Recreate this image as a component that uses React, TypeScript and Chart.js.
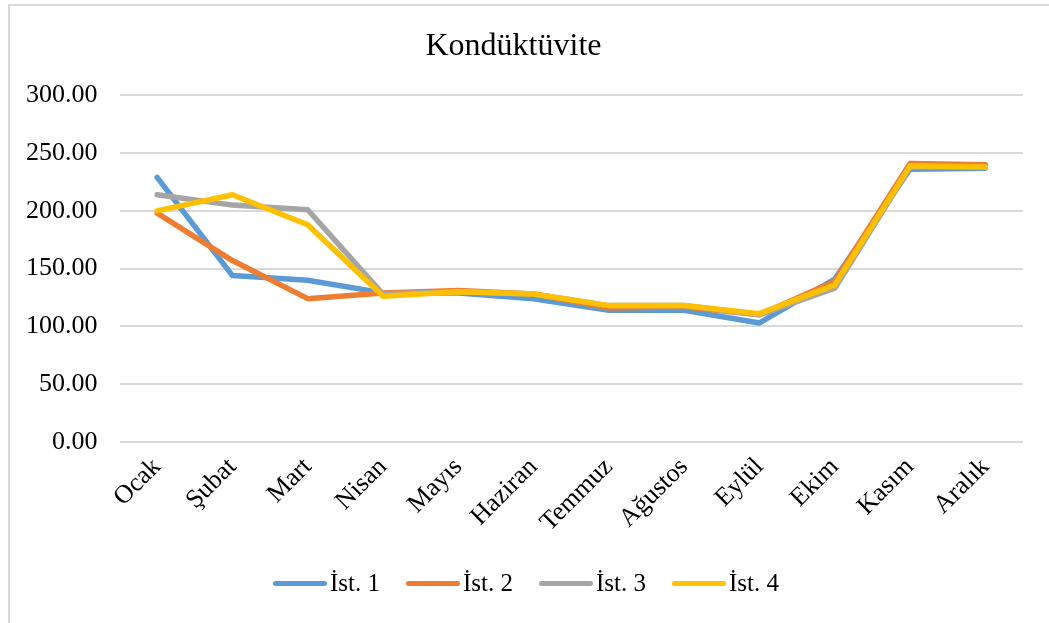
import React, { useEffect, useRef } from "react";
import { Chart, registerables } from "chart.js";

Chart.register(...registerables);

const months = ["Ocak", "Şubat", "Mart", "Nisan", "Mayıs", "Haziran", "Temmuz", "Ağustos", "Eylül", "Ekim", "Kasım", "Aralık"];
const ist1 = [229, 144, 140, 129, 129, 124, 114, 114, 103, 141, 236, 237];
const ist2 = [198, 157, 124, 129, 131, 128, 116, 117, 110, 139, 241, 240];
const ist3 = [214, 205, 201, 128, 130, 128, 118, 118, 110, 133, 238, 238];
const ist4 = [200, 214, 188, 126, 130, 128, 118, 118, 111, 136, 239, 238];
const seriesNames = ["İst. 1", "İst. 2", "İst. 3", "İst. 4"];
const seriesColors = ["#5B9BD5", "#ED7D31", "#A5A5A5", "#FFC000"];
const titleText = "Kondüktüvite";

const FONT = "'Liberation Serif', 'Times New Roman', serif";

export default function App() {
  const ref = useRef<HTMLCanvasElement | null>(null);
  useEffect(() => {
    if (!ref.current) return;
    const all = [ist1, ist2, ist3, ist4];
    const chart = new Chart(ref.current, {
      type: "line",
      data: {
        labels: months,
        datasets: all.map((d, i) => ({
          label: seriesNames[i],
          data: d,
          borderColor: seriesColors[i],
          backgroundColor: seriesColors[i],
          borderWidth: 5.5,
          pointRadius: 0,
          borderJoinStyle: "round" as const,
          borderCapStyle: "round" as const,
          tension: 0,
          order: 3 - i,
        })),
      },
      options: {
        responsive: false,
        animation: false,
        layout: { padding: { left: 4, right: 26, top: 0, bottom: 75 } },
        plugins: {
          title: {
            display: true,
            text: titleText,
            color: "#000",
            font: { family: FONT, size: 32, weight: "normal" },
            padding: { top: 27, bottom: 30 },
          },
          legend: { display: false },
          tooltip: { enabled: false },
        },
        scales: {
          x: {
            offset: true,
            grid: { display: false, drawTicks: false },
            border: { display: false },
            afterFit: (scale: any) => {
              scale.paddingLeft = 0;
              scale.paddingRight = 0;
            },
            ticks: {
              color: "#000",
              font: { family: FONT, size: 26 },
              maxRotation: 45,
              minRotation: 45,
              padding: 10,
            },
          },
          y: {
            min: 0,
            max: 300,
            grid: { color: "#d9d9d9", lineWidth: 2, drawTicks: false },
            border: { display: false },
            ticks: {
              stepSize: 50,
              color: "#000",
              font: { family: FONT, size: 26 },
              padding: 22,
              callback: (v: any) => Number(v).toFixed(2),
            },
          },
        },
      },
    });
    return () => chart.destroy();
  }, []);
  return (
    <div style={{ position: "fixed", left: 0, top: 0, width: 1049, height: 623, overflow: "hidden", background: "#fff" }}>
      <div style={{ position: "absolute", left: 8, top: 4, width: 1100, height: 700, border: "2px solid #d9d9d9", boxSizing: "border-box" }} />
      <canvas ref={ref} width={1049} height={623} style={{ position: "absolute", left: 0, top: 0, width: 1049, height: 623 }} />
      <div style={{ position: "absolute", left: 273, top: 566, height: 34, display: "flex", alignItems: "center", fontFamily: FONT, fontSize: 25, color: "#000", whiteSpace: "nowrap" }}>
        {seriesNames.map((n, i) => (
          <div key={n} style={{ display: "flex", alignItems: "center", marginRight: 26 }}>
            <span style={{ display: "inline-block", width: 54, height: 5, borderRadius: 3, background: seriesColors[i], marginRight: 3 }} />
            <span style={{ lineHeight: "34px" }}>{n}</span>
          </div>
        ))}
      </div>
    </div>
  );
}
